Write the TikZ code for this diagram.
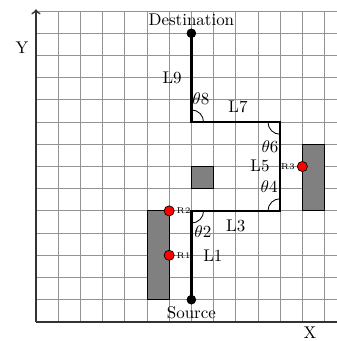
\documentclass[tikz,border=0pt]{standalone}
\begin{document}
\begin{tikzpicture}[x=0.46cm,y=0.46cm,
  gridline/.style={gray!85, line width=0.5pt},
  axis/.style={line width=1pt, black!80},
  route/.style={line width=1.4pt},
  anglearc/.style={line width=0.5pt},
  obstacle/.style={fill=gray, draw=black, line width=0.5pt},
  endpt/.style={circle, fill=black, inner sep=0pt, minimum size=5.5pt},
  relay/.style={circle, fill=red, draw=black, line width=0.4pt, inner sep=0pt, minimum size=6pt},
  rlabel/.style={font=\tiny, inner sep=1pt},
]
\useasboundingbox (-1.62,-0.86) rectangle (13.56,14.5);
\clip (-1.62,-0.86) rectangle (13.56,14.5);
% grid
\draw[gridline, step=0.46cm] (0,0) grid (14,14);
% axes
\draw[axis,->] (0,0) -- (0,14.08);
\draw[axis] (0,0) -- (14,0);
\node (ylab) at (-0.63,12.34) {Y};
\node (xlab) at (12.34,-0.5) {X};
% obstacles
\draw[obstacle] (5,1) rectangle (6,5);
\draw[obstacle] (7,6) rectangle (8,7);
\draw[obstacle] (12,5) rectangle (13,8);
% route
\node[endpt] (src) at (7,1) {};
\node[endpt] (dst) at (7,13) {};
\coordinate (c1) at (7,5);
\coordinate (c2) at (11,5);
\coordinate (c3) at (11,9);
\coordinate (c4) at (7,9);
\draw[route] (src.center) -- (c1) -- (c2) -- (c3) -- (c4) -- (dst.center);
\node[endpt] at (src) {};
\node[endpt] at (dst) {};
% angle arcs
\draw[anglearc] (c1) ++(0,-0.55) arc[start angle=-90, end angle=0, radius=0.55];
\draw[anglearc] (c2) ++(-0.55,0) arc[start angle=180, end angle=90, radius=0.55];
\draw[anglearc] (c3) ++(-0.55,0) arc[start angle=180, end angle=270, radius=0.55];
\draw[anglearc] (c4) ++(0.55,0) arc[start angle=0, end angle=90, radius=0.55];
% labels
\node (srclab) at (7,0.4) {Source};
\node (dstlab) at (7,13.6) {Destination};
\node (l1) at (7.97,2.97) {L1};
\node (t2) at (7.52,4.05) {$\theta2$};
\node (l3) at (9.0,4.32) {L3};
\node (t4) at (10.5,6.08) {$\theta4$};
\node (l5) at (10.09,7.03) {L5};
\node (t6) at (10.54,7.88) {$\theta6$};
\node (l7) at (9.1,9.68) {L7};
\node (t8) at (7.43,10.04) {$\theta8$};
\node (l9) at (6.13,10.99) {L9};
% relays
\node[relay] (r1) at (6,3) {};
\node[relay] (r2) at (6,5) {};
\node[relay] (r3) at (12,7) {};
\node[rlabel, right] at (r1.east) {R1};
\node[rlabel, right] at (r2.east) {R2};
\node[rlabel, left] at (r3.west) {R3};
\end{tikzpicture}
\end{document}
